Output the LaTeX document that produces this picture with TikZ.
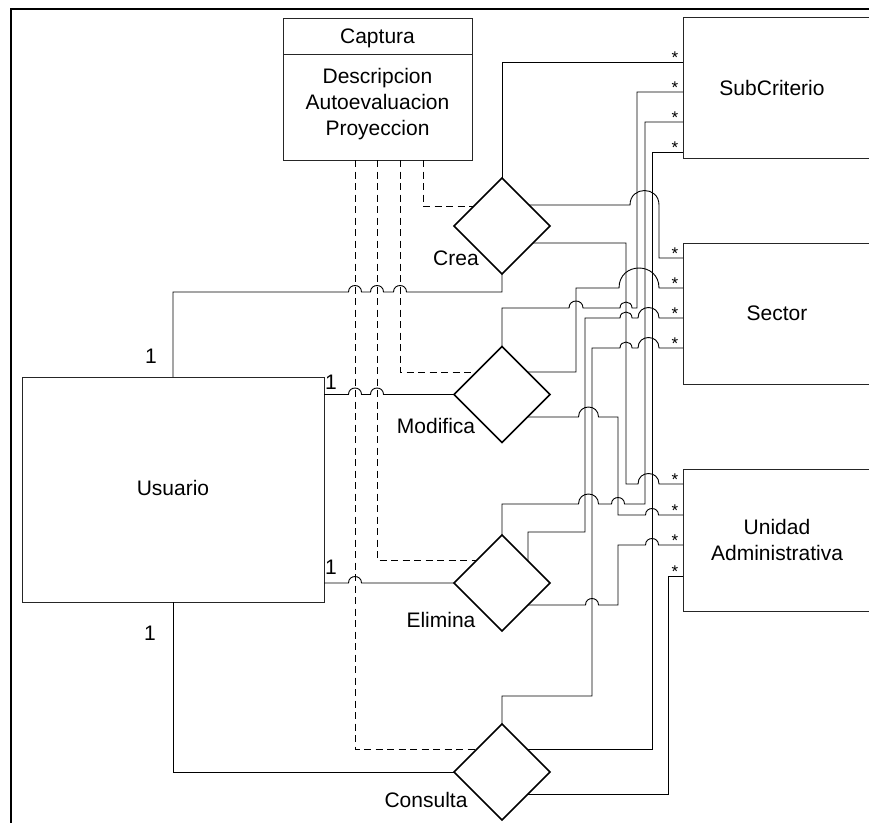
\documentclass[tikz,border=0pt]{standalone}
\usepackage{fontspec}
\setmainfont{Liberation Sans}
\usetikzlibrary{shapes.geometric}
\newcommand\hopover[3]{-- ({#1-#3},#2) .. controls ({#1-#3},{#2-1.333*#3}) and ({#1+#3},{#2-1.333*#3}) .. ({#1+#3},#2)}
\begin{document}
\begin{tikzpicture}[x=1pt,y=-1pt,
  conn/.style={line width=0.9pt, black},
  dashline/.style={line width=0.9pt, black, dash pattern=on 7pt off 4.5pt},
  entity/.style={draw=black!85, line width=0.8pt, inner sep=0pt, outer sep=0pt, rectangle, anchor=north west},
  rel/.style={draw, shape=diamond, line width=1.6pt, inner sep=0pt, outer sep=0pt, minimum width=96pt, minimum height=96pt},
  txt/.style={font=\fontsize{21}{25}\selectfont, inner sep=0pt, anchor=base},
  star/.style={font=\fontsize{17}{19}\selectfont, inner sep=0pt, anchor=base}]
\useasboundingbox (0,0) rectangle (869,822);
\clip (0,0) rectangle (869,822);
% frame
\draw[line width=1.5pt] (11,9) rectangle (890,840);

% entities
\node[entity, minimum width=189pt, minimum height=142pt] (cap) at (283,18) {};
\draw[draw=black!85, line width=0.8pt] (cap.west |- 0,54) -- (cap.east |- 0,54);
\node[txt] (capt) at (377.5,43.5) {Captura};
\node[txt] (capa1) at (377.5,83.5) {Descripcion};
\node[txt] (capa2) at (377.5,109.5) {Autoevaluacion};
\node[txt] (capa3) at (377.5,135.5) {Proyeccion};

\node[entity, minimum width=210pt, minimum height=141pt] (sub) at (683,17) {};
\node[txt] (subt) at (772,95.5) {SubCriterio};
\node[entity, minimum width=210pt, minimum height=141pt] (sec) at (683,243) {};
\node[txt] (sect) at (777,320.5) {Sector};
\node[entity, minimum width=210pt, minimum height=142pt] (uni) at (683,469) {};
\node[txt] (unit1) at (777,534.5) {Unidad};
\node[txt] (unit2) at (777,560.5) {Administrativa};

\node[entity, minimum width=302pt, minimum height=225pt] (usr) at (22,377) {};
\node[txt] (usrt) at (173,495.5) {Usuario};

% relationships
\node[rel] (crea) at (502,226) {};
\node[rel] (modi) at (502,394.5) {};
\node[rel] (elim) at (502,583) {};
\node[rel] (cons) at (502,772) {};
\node[txt] (creat) at (456,265.5) {Crea};
\node[txt] (modit) at (436,433.5) {Modifica};
\node[txt] (elimt) at (441,627.5) {Elimina};
\node[txt] (const) at (426,807.5) {Consulta};

% edge points
\coordinate (creaUR) at (529,205);
\coordinate (creaLR) at (533,243);
\coordinate (creaUL) at (474,206);
\coordinate (modiUR) at (527.5,372);
\coordinate (modiLR) at (527.5,417);
\coordinate (modiUL) at (476.5,372);
\coordinate (elimUR) at (528,561);
\coordinate (elimLR) at (528,605);
\coordinate (elimUL) at (477,560);
\coordinate (consUR) at (527,749);
\coordinate (consLR) at (528,794);
\coordinate (consUL) at (477,749);

% ports
\coordinate (sub1) at (683,62);
\coordinate (sub2) at (683,92);
\coordinate (sub3) at (683,122);
\coordinate (sub4) at (683,152);
\coordinate (sec1) at (683,258);
\coordinate (sec2) at (683,288);
\coordinate (sec3) at (683,318);
\coordinate (sec4) at (683,348);
\coordinate (uni1) at (683,484);
\coordinate (uni2) at (683,515);
\coordinate (uni3) at (683,545);
\coordinate (uni4) at (683,576);
\foreach \p/\yy in {s1/62,s2/92,s3/122,s4/152,t1/258,t2/288,t3/318,t4/348,u1/484,u2/515,u3/545,u4/576}
  \node[star] (st\p) at (675,\yy+1.5) {*};

% multiplicity labels
\node[txt] (one1) at (151,363.5) {1};
\node[txt] (one2) at (331,389.5) {1};
\node[txt] (one3) at (331,574.5) {1};
\node[txt] (one4) at (150,640.5) {1};

% dashed links from Captura
\draw[dashline] (cap.south -| 423,0) |- (creaUL);
\draw[dashline] (cap.south -| 400,0) |- (modiUL);
\draw[dashline] (cap.south -| 377,0) |- (elimUL);
\draw[dashline] (cap.south -| 355,0) |- (consUL);

% Usuario links
\draw[conn] (usr.north) -- (173,292) \hopover{355}{292}{6.5} \hopover{377}{292}{6.5} \hopover{400}{292}{6.5} -- (502,292) -- (crea.south);
\draw[conn] (usr.east |- modi.west) \hopover{355}{394.5}{6.5} \hopover{377}{394.5}{6.5} -- (modi.west);
\draw[conn] (usr.east |- elim.west) \hopover{355}{583}{6.5} -- (elim.west);
\draw[conn] (usr.south) |- (cons.west);

% Crea
\draw[conn] (crea.north) |- (sub1);
\draw[conn] (creaUR) \hopover{644.5}{205}{14.5} |- (sec1);
\draw[conn] (creaLR) -- (626,243) -- (626,484) \hopover{648.5}{484}{10.5} -- (uni1);
% Modifica
\draw[conn] (modi.north) -- (502,308) \hopover{576}{308}{7} \hopover{626}{308}{6} -- (637,308) |- (sub2);
\draw[conn] (modiUR) -- (576,372) -- (576,288) \hopover{639}{288}{20} -- (sec2);
\draw[conn] (modiLR) \hopover{588.5}{417}{10} -- (618,417) -- (618,515) \hopover{652}{515}{6.5} -- (uni2);
% Elimina
\draw[conn] (elim.north) -- (502,504) \hopover{588.5}{504}{10} \hopover{618}{504}{6.5} -- (645,504) |- (sub3);
\draw[conn] (elimUR) -- (528,532) -- (585,532) -- (585,318) \hopover{626}{318}{6} \hopover{648.5}{318}{10.5} -- (sec3);
\draw[conn] (elimLR) \hopover{592}{605}{6.5} -- (618,605) -- (618,545) \hopover{652}{545}{6.5} -- (uni3);
% Consulta
\draw[conn] (cons.north) -- (502,696) -- (592,696) -- (592,348) \hopover{626}{348}{6} \hopover{648.5}{348}{10.5} -- (sec4);
\draw[conn] (consUR) -- (652,749) |- (sub4);
\draw[conn] (consLR) -- (668,794) |- (uni4);
\end{tikzpicture}
\end{document}
